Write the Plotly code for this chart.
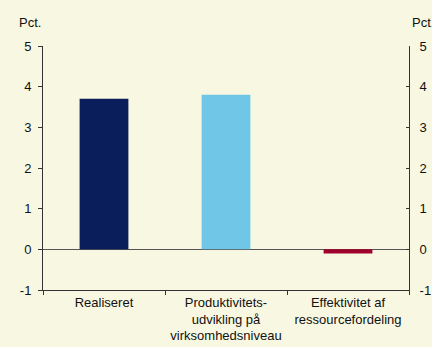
import plotly.graph_objects as go

# Bidrag til produktivitetsvækst, pct.
categories = ["Realiseret",
              "Produktivitets-<br>udvikling på<br>virksomhedsniveau",
              "Effektivitet af<br>ressourcefordeling"]
values = [3.7, 3.8, -0.1]
bar_colors = ["#0A1E5C", "#70C6E6", "#A0002C"]
y_ticks = [-1, 0, 1, 2, 3, 4, 5]
y_tick_text = ["-1", "0", "1", "2", "3", "4", "5"]

bg = "#F8F8E2"
axis_col = "#333333"
font = dict(family="Liberation Sans, Arial, sans-serif", size=13, color="#111111")

fig = go.Figure()
fig.add_trace(go.Bar(x=categories, y=values, marker=dict(color=bar_colors, line=dict(width=0)),
                     width=0.4, showlegend=False))
# right-hand axis mirrors the left scale
fig.add_trace(go.Scatter(x=categories, y=values, yaxis="y2", mode="markers",
                         marker=dict(opacity=0), showlegend=False, hoverinfo="skip"))

yaxis_common = dict(range=[-1, 5], tickvals=y_ticks, ticktext=y_tick_text,
                    showline=True, linecolor=axis_col, linewidth=1,
                    tickcolor=axis_col, showgrid=False,
                    tickfont=font, automargin=False)

fig.update_layout(
    width=432, height=347,
    margin=dict(l=43, r=23, t=46, b=57, autoexpand=False),
    paper_bgcolor=bg, plot_bgcolor=bg,
    font=font,
    bargap=0.6,
    xaxis=dict(type="category", showline=True, linecolor=axis_col, linewidth=1,
               ticks="outside", tickson="boundaries", ticklen=4, tickcolor=axis_col,
               showgrid=False, tickfont=font, automargin=False),
    yaxis=dict(**yaxis_common, ticks="outside", ticklen=4, ticklabelstandoff=4,
               zeroline=True, zerolinecolor="#555555", zerolinewidth=1),
    yaxis2=dict(**yaxis_common, ticks="inside", ticklen=3, ticklabelstandoff=7,
                overlaying="y", side="right", zeroline=False),
    annotations=[
        dict(text="Pct.", xref="paper", yref="paper", x=0, y=1.0, yshift=24, xshift=-26,
             xanchor="left", yanchor="middle", showarrow=False, font=font),
        dict(text="Pct.", xref="paper", yref="paper", x=1.0, y=1.0, yshift=24, xshift=1,
             xanchor="left", yanchor="middle", showarrow=False, font=font),
    ],
)

fig.write_html("out.html")
